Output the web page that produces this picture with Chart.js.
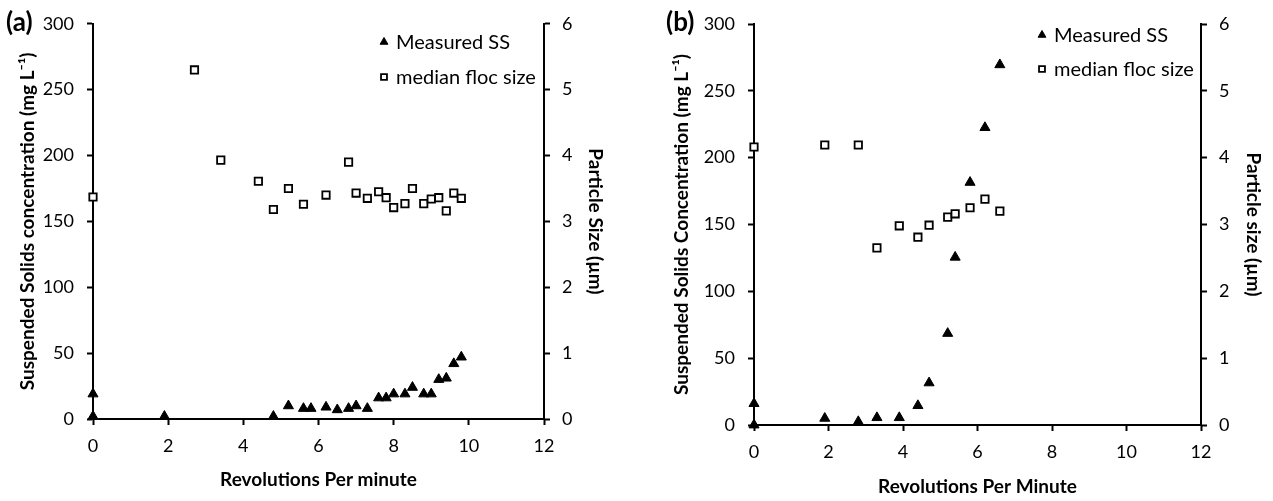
<!DOCTYPE html>
<html>
<head>
<meta charset="utf-8">
<script src="https://cdn.jsdelivr.net/npm/chart.js@4.4.1/dist/chart.umd.min.js"></script>
<style>
    html, body { margin: 0; padding: 0; background: #fff; }
    .panel { position: absolute; top: 0; height: 501px; }
    #panel-a { left: 0; width: 636px; }
    #panel-b { left: 636px; width: 637px; }
</style>
</head>
<body>
<div class="panel" id="panel-a"><canvas id="chart-a"></canvas></div>
<div class="panel" id="panel-b"><canvas id="chart-b"></canvas></div>
<script>
// Panel (a)
const ssRpmA = [0, 0, 1.9, 4.8, 5.2, 5.6, 5.8, 6.2, 6.5, 6.8, 7.0, 7.3, 7.6, 7.8, 8.0, 8.3, 8.5, 8.8, 9.0, 9.2, 9.4, 9.6, 9.8];
const ssA = [2, 19, 2, 2, 10, 8, 8, 9, 7, 8, 10, 8, 16, 16, 19, 19, 24, 19, 19, 30, 31, 42, 47];
const flocRpmA = [0, 2.7, 3.4, 4.4, 4.8, 5.2, 5.6, 6.2, 6.8, 7.0, 7.3, 7.6, 7.8, 8.0, 8.3, 8.5, 8.8, 9.0, 9.2, 9.4, 9.6, 9.8];
const flocA = [3.37, 5.30, 3.93, 3.61, 3.18, 3.50, 3.26, 3.40, 3.90, 3.43, 3.35, 3.45, 3.36, 3.21, 3.27, 3.50, 3.27, 3.34, 3.36, 3.16, 3.43, 3.35];

// Panel (b)
const ssRpmB = [0, 0, 1.9, 2.8, 3.3, 3.9, 4.4, 4.7, 5.2, 5.4, 5.8, 6.2, 6.6];
const ssB = [0, 16, 5, 2.5, 5.5, 5.5, 14.5, 31.5, 68.5, 125.5, 181.5, 222.5, 269.5];
const flocRpmB = [0, 1.9, 2.8, 3.3, 3.9, 4.4, 4.7, 5.2, 5.4, 5.8, 6.2, 6.6];
const flocB = [4.16, 4.19, 4.19, 2.65, 2.98, 2.81, 2.99, 3.11, 3.16, 3.25, 3.38, 3.20];

const ssLabel = 'Measured SS';
const flocLabel = 'median floc size';

const FONT = 'Lato, "Open Sans", sans-serif';

function toPoints(xs, ys) {
    return xs.map((x, i) => ({ x: x, y: ys[i] }));
}

// legend drawn inside the plot area, one row per dataset
const insideLegend = {
    id: 'insideLegend',
    afterDraw(chart, args, opts) {
        const ctx = chart.ctx;
        ctx.save();
        ctx.font = '20px ' + FONT;
        ctx.textBaseline = 'middle';
        chart.data.datasets.forEach((ds, i) => {
            const y = opts.y + i * opts.gap;
            ctx.fillStyle = ds.backgroundColor;
            ctx.strokeStyle = ds.borderColor;
            ctx.lineWidth = ds.borderWidth;
            Chart.helpers.drawPoint(ctx, {
                pointStyle: ds.pointStyle,
                radius: ds.legendRadius,
                borderWidth: ds.borderWidth
            }, opts.x, y);
            ctx.fillStyle = '#000';
            ctx.fillText(ds.label, opts.x + 12, y + 1);
        });
        ctx.restore();
    }
};

// the (a)/(b) tag in the corner
const panelTag = {
    id: 'panelTag',
    afterDraw(chart, args, opts) {
        const ctx = chart.ctx;
        ctx.save();
        ctx.font = 'bold 26px ' + FONT;
        ctx.fillStyle = '#000';
        ctx.textBaseline = 'alphabetic';
        ctx.fillText(opts.text, opts.x, opts.y);
        ctx.restore();
    }
};

function makeChart(id, cfg) {
    const ctx = document.getElementById(id).getContext('2d');
    const tickFont = { family: FONT, size: 18 };
    const titleFont = { family: FONT, size: 19, weight: 'bold' };
    const axisGrid = {
        drawOnChartArea: false,
        drawTicks: true,
        tickLength: 6,
        tickWidth: 2,
        tickColor: '#000'
    };
    const axisBorder = { color: '#000', width: 2 };

    return new Chart(ctx, {
        type: 'scatter',
        data: {
            datasets: [{
                label: ssLabel,
                data: toPoints(cfg.ssRpm, cfg.ss),
                yAxisID: 'y',
                pointStyle: 'triangle',
                pointRadius: 5.8,
                legendRadius: 4.5,
                backgroundColor: '#000',
                borderColor: '#000',
                borderWidth: 1,
                clip: false
            }, {
                label: flocLabel,
                data: toPoints(cfg.flocRpm, cfg.floc),
                yAxisID: 'y2',
                pointStyle: 'rect',
                pointRadius: 5.2,
                legendRadius: 4.2,
                backgroundColor: '#fff',
                borderColor: '#000',
                borderWidth: 1.8,
                clip: false
            }]
        },
        options: {
            responsive: true,
            maintainAspectRatio: false,
            animation: false,
            layout: { padding: { top: cfg.top, left: 0, right: 0, bottom: 0 } },
            plugins: {
                legend: { display: false },
                tooltip: { enabled: false },
                insideLegend: cfg.legend,
                panelTag: cfg.tag
            },
            scales: {
                x: {
                    type: 'linear',
                    min: 0,
                    max: 12,
                    ticks: { stepSize: 2, color: '#000', font: tickFont, padding: 10 },
                    grid: axisGrid,
                    border: axisBorder,
                    title: {
                        display: true,
                        text: cfg.xTitle,
                        color: '#000',
                        font: titleFont,
                        padding: { top: 0, bottom: cfg.xTitlePad }
                    },
                    afterFit: s => { s.height = cfg.xHeight; }
                },
                y: {
                    position: 'left',
                    min: 0,
                    max: 300,
                    ticks: { stepSize: 50, color: '#000', font: tickFont, padding: 13 },
                    grid: axisGrid,
                    border: axisBorder,
                    title: {
                        display: true,
                        text: cfg.yTitle,
                        color: '#000',
                        font: titleFont,
                        padding: { top: cfg.yTitlePad, bottom: 0 }
                    },
                    afterFit: s => { s.width = cfg.yWidth; }
                },
                y2: {
                    position: 'right',
                    min: 0,
                    max: 6,
                    ticks: { stepSize: 1, color: '#000', font: tickFont, padding: 12 },
                    grid: axisGrid,
                    border: axisBorder,
                    title: {
                        display: true,
                        text: cfg.y2Title,
                        color: '#000',
                        font: titleFont,
                        padding: { top: cfg.y2TitlePad, bottom: 0 }
                    },
                    afterFit: s => { s.width = cfg.y2Width; }
                }
            }
        },
        plugins: [insideLegend, panelTag]
    });
}

makeChart('chart-a', {
    ssRpm: ssRpmA, ss: ssA, flocRpm: flocRpmA, floc: flocA,
    top: 23,
    xHeight: 82, yWidth: 93, y2Width: 92,
    xTitle: 'Revolutions Per minute', xTitlePad: 9.5,
    yTitle: 'Suspended Solids concentration (mg L\u207B\u00B9)', yTitlePad: 16.5,
    y2Title: 'Particle Size (\u00B5m)', y2TitlePad: 29.5,
    legend: { x: 384, y: 42, gap: 35 },
    tag: { text: '(a)', x: 6, y: 31 }
});

makeChart('chart-b', {
    ssRpm: ssRpmB, ss: ssB, flocRpm: flocRpmB, floc: flocB,
    top: 24,
    xHeight: 76, yWidth: 118, y2Width: 72,
    xTitle: 'Revolutions Per Minute', xTitlePad: 3,
    yTitle: 'Suspended Solids Concentration (mg L\u207B\u00B9)', yTitlePad: 34,
    y2Title: 'Particle size (\u00B5m)', y2TitlePad: 8.5,
    legend: { x: 406, y: 35, gap: 34 },
    tag: { text: '(b)', x: 30, y: 31 }
});
</script>
</body>
</html>
